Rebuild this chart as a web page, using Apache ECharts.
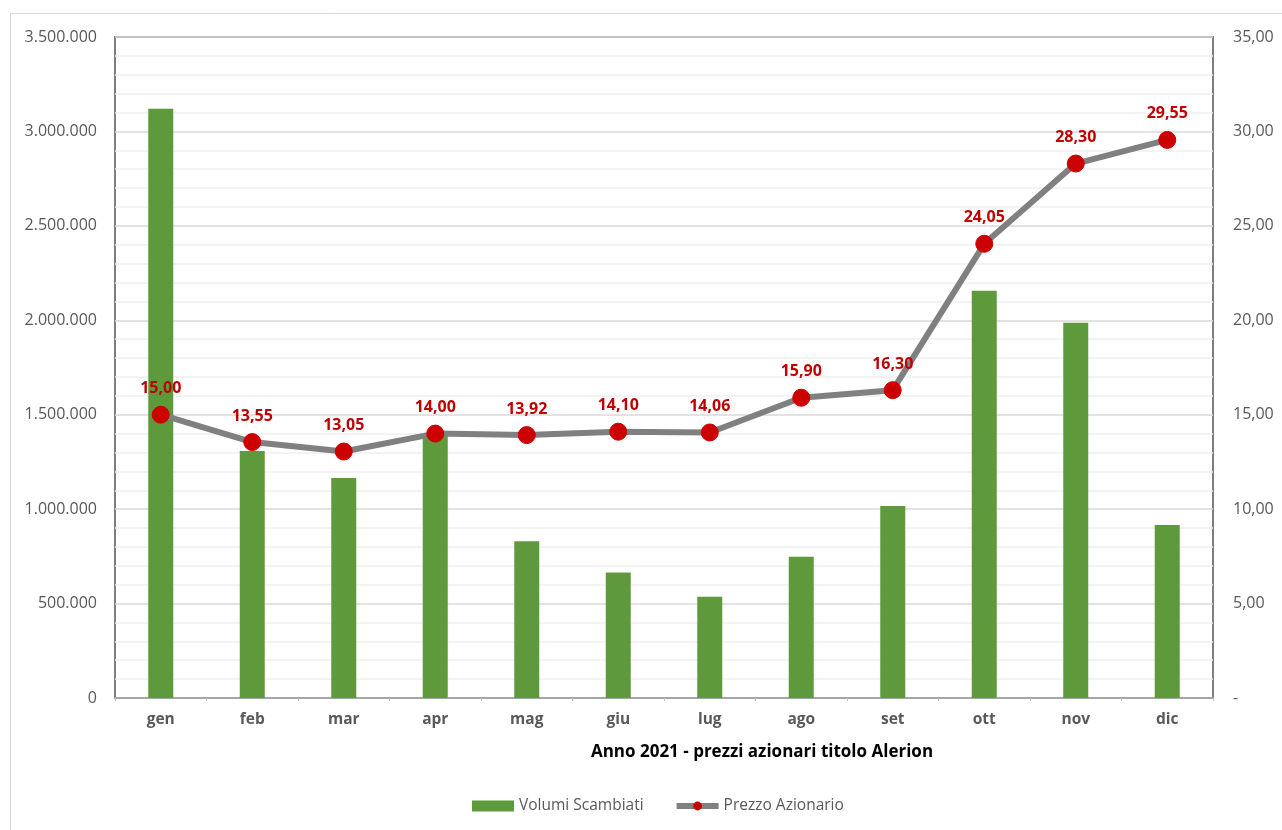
<!DOCTYPE html>
<html>
<head>
<meta charset="utf-8">
<script src="https://cdn.jsdelivr.net/npm/echarts@6/dist/echarts.min.js"></script>
<style>
html,body{margin:0;padding:0;background:#fff;}
#chart{width:1282px;height:830px;}
</style>
</head>
<body>
<div id="chart"></div>
<script>
const categories = ['gen','feb','mar','apr','mag','giu','lug','ago','set','ott','nov','dic'];
const volumi = [3120000, 1308000, 1165000, 1390000, 830000, 664000, 536000, 748000, 1016000, 2157000, 1987000, 916000];
const prezzi = [15.00, 13.55, 13.05, 14.00, 13.92, 14.10, 14.06, 15.90, 16.30, 24.05, 28.30, 29.55];
const seriesNames = ['Volumi Scambiati', 'Prezzo Azionario'];
const axisTitle = 'Anno 2021 - prezzi azionari titolo Alerion';

const FONT = '"Open Sans", "Noto Sans", sans-serif';
function fmtThousands(v){
  return String(Math.round(v)).replace(/\B(?=(\d{3})+(?!\d))/g, '.');
}
function fmtPrice(v){
  return v.toFixed(2).replace('.', ',');
}

const chart = echarts.init(document.getElementById('chart'), null, {renderer:'canvas'});
chart.setOption({
  animation:false,
  backgroundColor:'#ffffff',
  textStyle:{fontFamily:FONT},
  grid:{left:115, right:69, top:37, bottom:132, show:true, borderColor:'#7f7f7f', borderWidth:2, backgroundColor:'transparent'},
  graphic:[
    {type:'rect', shape:{x:10.5, y:13.5, width:1290, height:830}, style:{fill:'none', stroke:'#d9d9d9', lineWidth:1}, z:-10, silent:true},
    {type:'text', x:762, y:744, style:{text:axisTitle, textAlign:'center', font:'bold 17px "Open Sans", "Noto Sans", sans-serif', fill:'#000000'}}
  ],
  legend:{
    bottom:11, left:467,
    itemGap:30, itemWidth:42, itemHeight:11,
    textStyle:{color:'#595959', fontSize:15.5, fontFamily:FONT, padding:[0,0,0,0]},
    data:[
      {name:seriesNames[0], icon:'rect'},
      {name:seriesNames[1], lineStyle:{width:6, color:'#808080'}, itemStyle:{color:'#cc0000'}}
    ]
  },
  xAxis:{
    type:'category', data:categories, boundaryGap:true,
    axisLine:{show:true, lineStyle:{color:'#a6a6a6', width:2}},
    axisTick:{show:true, length:3, lineStyle:{color:'#bfbfbf'}},
    axisLabel:{color:'#595959', fontWeight:'bold', fontSize:15.5, margin:14, fontFamily:FONT}
  },
  yAxis:[
    {
      type:'value', min:0, max:3500000, interval:500000, position:'left',
      axisLine:{show:false}, axisTick:{show:false},
      axisLabel:{color:'#595959', fontSize:16, margin:18, formatter:fmtThousands, fontFamily:FONT},
      splitLine:{show:true, lineStyle:{color:'#d9d9d9', width:1.5}},
      minorTick:{show:false, splitNumber:5},
      minorSplitLine:{show:true, lineStyle:{color:'#efefef', width:1.5}}
    },
    {
      type:'value', min:0, max:35, interval:5, position:'right',
      axisLine:{show:false}, axisTick:{show:false},
      axisLabel:{color:'#595959', fontSize:16, margin:20, fontFamily:FONT, formatter:function(v){return v===0?'-':fmtPrice(v);}},
      splitLine:{show:false}
    }
  ],
  series:[
    {
      name:seriesNames[0], type:'bar', yAxisIndex:0, data:volumi, barWidth:25,
      itemStyle:{color:'#5e9a3c'}
    },
    {
      name:seriesNames[1], type:'line', yAxisIndex:1, data:prezzi,
      symbol:'circle', symbolSize:17,
      lineStyle:{color:'#808080', width:6},
      itemStyle:{color:'#cc0000', borderColor:'#cc0000'},
      label:{show:true, position:'top', distance:9, color:'#c00000', fontWeight:'bold', fontSize:16, fontFamily:FONT, formatter:function(p){return fmtPrice(p.value);}},
      z:5
    }
  ]
});
</script>
</body>
</html>
